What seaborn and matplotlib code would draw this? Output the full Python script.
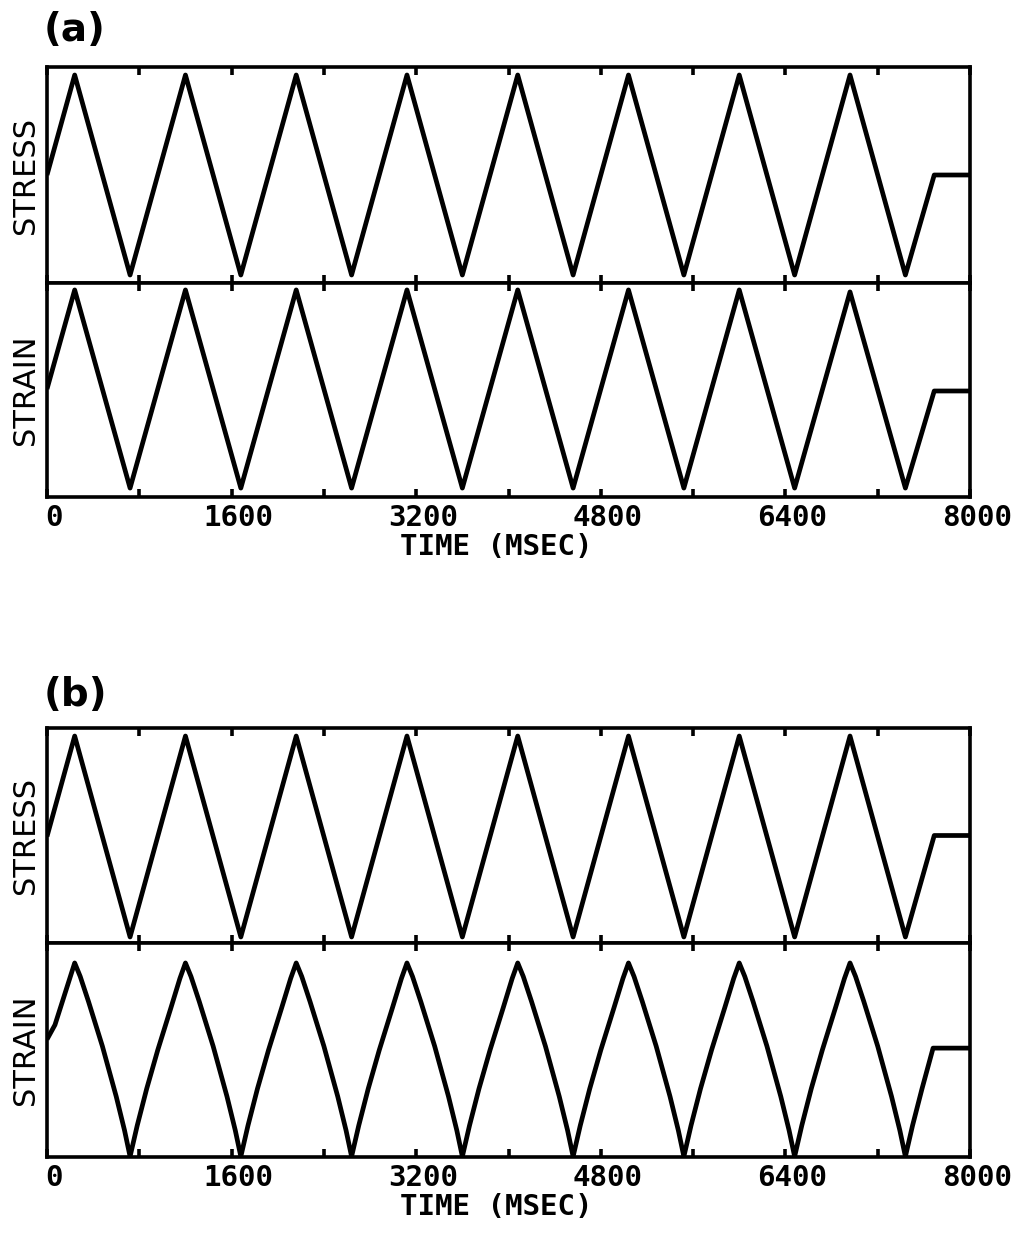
import numpy as np
import pandas as pd
import matplotlib
matplotlib.use("Agg")
import matplotlib.pyplot as plt
import matplotlib.transforms as mtransforms
import seaborn as sns

# ---------------- data ----------------
# Triangular stress history (same programme in both panels), time in ms
stress_time = [0, 240, 720, 1200, 1680, 2160, 2640, 3120, 3600, 4080, 4560,
               5040, 5520, 6000, 6480, 6960, 7440, 7690, 8000]
stress_a_value = [0.0, 1.0, -1.0, 1.0, -1.0, 1.0, -1.0, 1.0, -1.0, 1.0, -1.0,
                  1.0, -1.0, 1.0, -1.0, 1.0, -1.0, 0.0, 0.0]
stress_b_value = [0.0, 1.0, -1.0, 1.0, -1.0, 1.0, -1.0, 1.0, -1.0, 1.0, -1.0,
                  1.0, -1.0, 1.0, -1.0, 1.0, -1.0, 0.01, 0.01]

# Panel (a) strain: triangular as well
strain_a_time = [0, 240, 720, 1200, 1680, 2160, 2640, 3120, 3600, 4080, 4560,
                 5040, 5520, 6000, 6480, 6960, 7440, 7690, 8000]
strain_a_value = [0.0, 1.0, -1.0, 1.0, -1.0, 1.0, -1.0, 1.0, -1.0, 1.0, -1.0,
                  1.0, -1.0, 1.0, -1.0, 0.98, -1.0, -0.02, -0.02]

# Panel (b) strain: arch-shaped (rounded peaks, cusped troughs)
strain_b_time = [0, 69,
                 240, 288, 360, 480, 600, 672, 720, 782, 864, 960, 1075, 1152,
                 1200, 1248, 1320, 1440, 1560, 1632, 1680, 1742, 1824, 1920, 2035, 2112,
                 2160, 2208, 2280, 2400, 2520, 2592, 2640, 2702, 2784, 2880, 2995, 3072,
                 3120, 3168, 3240, 3360, 3480, 3552, 3600, 3662, 3744, 3840, 3955, 4032,
                 4080, 4128, 4200, 4320, 4440, 4512, 4560, 4622, 4704, 4800, 4915, 4992,
                 5040, 5088, 5160, 5280, 5400, 5472, 5520, 5582, 5664, 5760, 5875, 5952,
                 6000, 6048, 6120, 6240, 6360, 6432, 6480, 6542, 6624, 6720, 6835, 6912,
                 6960, 7008, 7080, 7200, 7320, 7392, 7440, 7502, 7584, 7680, 8000]
strain_b_value = [0.21, 0.36,
                  1.0, 0.86, 0.60, 0.14, -0.38, -0.73, -1.0, -0.68, -0.30, 0.10, 0.54, 0.84,
                  1.0, 0.86, 0.60, 0.14, -0.38, -0.73, -1.0, -0.68, -0.30, 0.10, 0.54, 0.84,
                  1.0, 0.86, 0.60, 0.14, -0.38, -0.73, -1.0, -0.68, -0.30, 0.10, 0.54, 0.84,
                  1.0, 0.86, 0.60, 0.14, -0.38, -0.73, -1.0, -0.68, -0.30, 0.10, 0.54, 0.84,
                  1.0, 0.86, 0.60, 0.14, -0.38, -0.73, -1.0, -0.68, -0.30, 0.10, 0.54, 0.84,
                  1.0, 0.86, 0.60, 0.14, -0.38, -0.73, -1.0, -0.68, -0.30, 0.10, 0.54, 0.84,
                  1.0, 0.86, 0.60, 0.14, -0.38, -0.73, -1.0, -0.68, -0.30, 0.10, 0.54, 0.84,
                  1.0, 0.86, 0.60, 0.14, -0.38, -0.73, -1.0, -0.68, -0.30, 0.12, 0.12]

major_ticks = [0, 1600, 3200, 4800, 6400, 8000]
minor_ticks = [800, 2400, 4000, 5600, 7200]
tick_labels = ["0", "1600", "3200", "4800", "6400", "8000"]
panel_labels = ["(a)", "(b)"]
x_label = "TIME (MSEC)"
y_labels = ["STRESS", "STRAIN"]

# ---------------- style ----------------
sns.set_style("white")
plt.rcParams["font.family"] = ["DejaVu Sans"]

W, H = 1029, 1237
fig = plt.figure(figsize=(W / 100, H / 100), dpi=100)

def fx(px):
    return px / W

def fy(py):
    return 1 - py / H

left, right = 47, 970
# (top, bottom) pixel rows of each axes
boxes = {
    ("a", "stress"): (67, 283),
    ("a", "strain"): (283, 497),
    ("b", "stress"): (728, 943),
    ("b", "strain"): (943, 1157),
}

def make_ax(key):
    top, bot = boxes[key]
    return fig.add_axes([fx(left), fy(bot), fx(right - left), (bot - top) / H])

series = {
    ("a", "stress"): (stress_time, stress_a_value, (-1.08, 1.08)),
    ("a", "strain"): (strain_a_time, strain_a_value, (-1.09, 1.07)),
    ("b", "stress"): (stress_time, stress_b_value, (-1.06, 1.08)),
    ("b", "strain"): (strain_b_time, strain_b_value, (-1.005, 1.206)),
}

lw = 3.4
for (panel, kind), (t, v, yl) in series.items():
    ax = make_ax((panel, kind))
    df = pd.DataFrame({"time": t, "value": v})
    sns.lineplot(data=df, x="time", y="value", ax=ax, color="black",
                 linewidth=lw, sort=False, estimator=None,
                 solid_joinstyle="round", solid_capstyle="butt")
    ax.set_xlim(0, 8000)
    ax.set_ylim(*yl)
    ax.set_yticks([])
    ax.set_xticks(major_ticks)
    ax.set_xticks(minor_ticks, minor=True)
    ax.tick_params(axis="x", which="both", direction="in", top=True,
                   bottom=True, length=6, width=2.6, color="black", pad=5)
    for s in ax.spines.values():
        s.set_linewidth(2.6)
        s.set_color("black")
    ax.set_facecolor("white")
    ylab = y_labels[0] if kind == "stress" else y_labels[1]
    ax.set_ylabel(ylab, fontsize=22, color="black", family="DejaVu Sans")
    ax.yaxis.label.set_va("center")
    ax.yaxis.label.set_ha("center")
    ax.yaxis.set_label_coords((25 - left) / (right - left), 0.5)
    if kind == "stress":
        ax.set_xticklabels([])
        ax.set_xlabel("")
    else:
        ax.set_xticklabels(tick_labels, family="DejaVu Sans Mono",
                           fontsize=21, fontweight="bold", color="black")
        offset = mtransforms.ScaledTranslation(0.07, 0, fig.dpi_scale_trans)
        for lab in ax.get_xticklabels():
            lab.set_transform(lab.get_transform() + offset)
        ax.set_xlabel(x_label, family="DejaVu Sans Mono", fontsize=21,
                      fontweight="bold", color="black")
        top, bot = boxes[(panel, kind)]
        ax.xaxis.set_label_coords((496 - left) / (right - left),
                                  -(533 - 497) / (bot - top))

fig.text(fx(44), fy(30), panel_labels[0], fontsize=28, fontweight="bold",
         ha="left", va="center", color="black")
fig.text(fx(44), fy(695), panel_labels[1], fontsize=28, fontweight="bold",
         ha="left", va="center", color="black")

fig.savefig("out.png", dpi=100, facecolor="white")
